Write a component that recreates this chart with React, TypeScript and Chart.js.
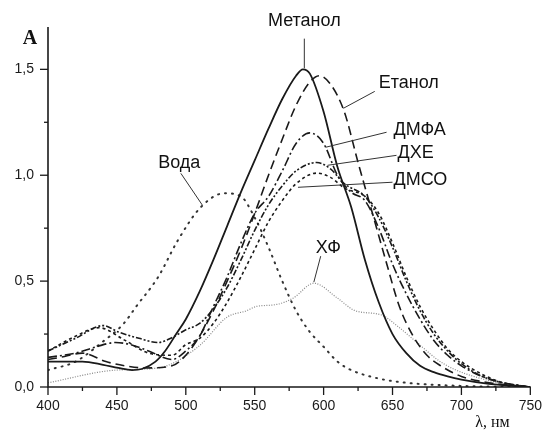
import React, { useEffect, useRef } from 'react';
import { Chart, registerables } from 'chart.js';

Chart.register(...registerables);

// ---- Data (wavelength, nm / absorbance) ----
const metanolX = [400, 425, 440, 451, 461, 468, 478, 485, 493, 500, 510, 520, 530, 540, 550, 560, 570, 580, 585, 590, 600, 610, 620, 630, 640, 650, 660, 670, 680, 690, 700, 720, 750];
const metanolY = [0.12, 0.12, 0.105, 0.09, 0.08, 0.085, 0.12, 0.17, 0.25, 0.32, 0.45, 0.6, 0.76, 0.92, 1.07, 1.22, 1.36, 1.47, 1.5, 1.48, 1.3, 1.04, 0.85, 0.6, 0.4, 0.25, 0.16, 0.1, 0.07, 0.05, 0.035, 0.015, 0];

const etanolX = [400, 409, 425, 442, 456, 470, 490, 500, 510, 520, 530, 540, 550, 560, 570, 580, 590, 597, 605, 615, 625, 635, 645, 655, 665, 675, 685, 700, 720, 750];
const etanolY = [0.13, 0.14, 0.16, 0.12, 0.1, 0.09, 0.1, 0.15, 0.24, 0.36, 0.5, 0.65, 0.82, 1.0, 1.17, 1.33, 1.44, 1.47, 1.43, 1.3, 1.06, 0.83, 0.6, 0.38, 0.24, 0.15, 0.1, 0.05, 0.02, 0];

const dmfaX = [400, 420, 435, 449, 460, 473, 490, 500, 510, 520, 530, 540, 550, 560, 570, 580, 590, 600, 610, 620, 630, 640, 650, 660, 670, 680, 690, 700, 715, 730, 750];
const dmfaY = [0.14, 0.16, 0.19, 0.21, 0.2, 0.17, 0.13, 0.17, 0.24, 0.38, 0.52, 0.68, 0.82, 0.9, 1.02, 1.15, 1.2, 1.15, 1.0, 0.92, 0.88, 0.75, 0.58, 0.44, 0.32, 0.22, 0.15, 0.1, 0.05, 0.02, 0];

const dxeX = [400, 420, 440, 451, 466, 480, 489, 500, 510, 520, 530, 540, 550, 560, 570, 580, 595, 605, 615, 630, 640, 650, 660, 670, 680, 690, 700, 715, 730, 750];
const dxeY = [0.17, 0.23, 0.29, 0.26, 0.23, 0.21, 0.23, 0.27, 0.3, 0.37, 0.47, 0.6, 0.74, 0.86, 0.95, 1.02, 1.06, 1.03, 0.96, 0.9, 0.8, 0.66, 0.5, 0.36, 0.25, 0.17, 0.11, 0.05, 0.02, 0];

const dmsoX = [400, 420, 437, 456, 473, 490, 500, 510, 520, 530, 540, 550, 560, 570, 580, 595, 605, 615, 630, 640, 650, 660, 670, 680, 690, 700, 715, 730, 750];
const dmsoY = [0.17, 0.24, 0.28, 0.22, 0.16, 0.15, 0.2, 0.23, 0.3, 0.4, 0.52, 0.65, 0.78, 0.88, 0.96, 1.01, 0.99, 0.94, 0.9, 0.82, 0.68, 0.52, 0.38, 0.27, 0.18, 0.12, 0.06, 0.02, 0];

const vodaX = [400, 420, 439, 455, 464, 480, 494, 511, 528, 540, 550, 560, 570, 580, 590, 600, 610, 620, 640, 660, 700, 750];
const vodaY = [0.08, 0.12, 0.21, 0.3, 0.38, 0.52, 0.69, 0.85, 0.915, 0.9, 0.8, 0.66, 0.5, 0.36, 0.26, 0.19, 0.12, 0.08, 0.04, 0.02, 0.005, 0];

const xfX = [400, 450, 480, 509, 530, 544, 551, 566, 578, 593, 610, 623, 642, 655, 666, 687, 720, 750];
const xfY = [0.02, 0.08, 0.09, 0.19, 0.33, 0.36, 0.38, 0.39, 0.42, 0.49, 0.42, 0.36, 0.34, 0.28, 0.22, 0.11, 0.03, 0];

const xTicks = [400, 425, 450, 475, 500, 525, 550, 575, 600, 625, 650, 675, 700, 725, 750];
const xMajor = [400, 450, 500, 550, 600, 650, 700, 750];
const yTicks = [0, 0.25, 0.5, 0.75, 1.0, 1.25, 1.5];
const yMajor = [0, 0.5, 1.0, 1.5];

// Labels with leader lines, in data units: text position, then line start/end
const labelTexts = ['Метанол', 'Етанол', 'ДМФА', 'ДХЕ', 'ДМСО', 'Вода', 'ХФ'];
const labelAt: [number, number][] = [[586, 1.73], [640, 1.434], [650.7, 1.212], [653.6, 1.104], [650.7, 0.976], [480, 1.057], [594.3, 0.656]];
const labelAlign = ['center', 'left', 'left', 'left', 'left', 'left', 'left'];
const leaderFrom: [number, number][] = [[586, 1.645], [637.1, 1.396], [645.7, 1.203], [652.9, 1.094], [650, 0.967], [496.4, 1.009], [597.9, 0.618]];
const leaderTo: [number, number][] = [[586, 1.505], [614.3, 1.316], [601.4, 1.132], [602.9, 1.047], [581.4, 0.943], [512.1, 0.858], [592.9, 0.495]];

const toPts = (xs: number[], ys: number[]) => xs.map((x, i) => ({ x, y: ys[i] }));
const fmt = (v: number) => v.toFixed(1).replace('.', ',');

const overlayPlugin = {
  id: 'overlay',
  afterDraw(chart: any) {
    const { ctx } = chart;
    const xs = chart.scales.x;
    const ys = chart.scales.y;
    ctx.save();
    ctx.strokeStyle = '#1a1a1a';
    ctx.lineWidth = 1.6;
    ctx.beginPath();
    ctx.moveTo(xs.left, ys.top);
    ctx.lineTo(xs.left, ys.bottom);
    ctx.lineTo(xs.right, ys.bottom);
    ctx.stroke();
    ctx.lineWidth = 1.3;
    yTicks.forEach((v) => {
      const py = ys.getPixelForValue(v);
      const len = yMajor.includes(v) ? 8 : 4;
      ctx.beginPath();
      ctx.moveTo(xs.left - len, py);
      ctx.lineTo(xs.left, py);
      ctx.stroke();
    });
    xTicks.forEach((v) => {
      const px = xs.getPixelForValue(v);
      const len = xMajor.includes(v) ? 8 : 4;
      ctx.beginPath();
      ctx.moveTo(px, ys.bottom);
      ctx.lineTo(px, ys.bottom + len);
      ctx.stroke();
    });

    // leader lines
    ctx.strokeStyle = '#333';
    ctx.lineWidth = 1;
    leaderFrom.forEach((p, i) => {
      ctx.beginPath();
      ctx.moveTo(xs.getPixelForValue(p[0]), ys.getPixelForValue(p[1]));
      ctx.lineTo(xs.getPixelForValue(leaderTo[i][0]), ys.getPixelForValue(leaderTo[i][1]));
      ctx.stroke();
    });
    // label texts
    ctx.fillStyle = '#111';
    ctx.font = '18px "Liberation Sans", Arial, sans-serif';
    ctx.textBaseline = 'middle';
    labelTexts.forEach((t, i) => {
      ctx.textAlign = labelAlign[i] as CanvasTextAlign;
      ctx.fillText(t, xs.getPixelForValue(labelAt[i][0]), ys.getPixelForValue(labelAt[i][1]));
    });
    // panel letter
    ctx.font = 'bold 20px "Liberation Serif", "Times New Roman", serif';
    ctx.textAlign = 'center';
    ctx.fillText('A', xs.getPixelForValue(387), ys.getPixelForValue(1.646));
    // axis title
    ctx.font = '16px "Liberation Serif", "Times New Roman", serif';
    ctx.textAlign = 'left';
    ctx.fillText('λ, нм', xs.getPixelForValue(710), ys.getPixelForValue(-0.17));
    ctx.restore();
  },
};

export default function App() {
  const ref = useRef<HTMLCanvasElement | null>(null);
  useEffect(() => {
    if (!ref.current) return;
    const base = { pointRadius: 0, fill: false, cubicInterpolationMode: 'monotone' as const };
    const chart = new Chart(ref.current, {
      type: 'line',
      data: {
        datasets: [
          { ...base, label: 'Метанол', data: toPts(metanolX, metanolY), borderColor: '#1a1a1a', borderWidth: 1.8 },
          { ...base, label: 'Етанол', data: toPts(etanolX, etanolY), borderColor: '#1a1a1a', borderWidth: 1.6, borderDash: [9, 5] },
          { ...base, label: 'ДМФА', data: toPts(dmfaX, dmfaY), borderColor: '#1a1a1a', borderWidth: 1.6, borderDash: [9, 3, 2, 3] },
          { ...base, label: 'ДХЕ', data: toPts(dxeX, dxeY), borderColor: '#1a1a1a', borderWidth: 1.6, borderDash: [6, 2, 2, 2, 2, 2] },
          { ...base, label: 'ДМСО', data: toPts(dmsoX, dmsoY), borderColor: '#1a1a1a', borderWidth: 1.6, borderDash: [3, 3] },
          { ...base, label: 'Вода', data: toPts(vodaX, vodaY), borderColor: '#333', borderWidth: 2, borderDash: [1, 6], borderCapStyle: 'round' },
          { ...base, label: 'ХФ', data: toPts(xfX, xfY), borderColor: '#888', borderWidth: 1.2, borderDash: [1, 1.5] },
        ],
      },
      options: {
        responsive: false,
        animation: false,
        events: [],
        layout: { padding: { top: 27, right: 15, left: 0, bottom: 0 } },
        plugins: { legend: { display: false }, tooltip: { enabled: false } },
        scales: {
          x: {
            type: 'linear',
            min: 400,
            max: 750,
            grid: { display: false, drawTicks: false },
            border: { display: false },
            afterBuildTicks: (s: any) => { s.ticks = xTicks.map((v) => ({ value: v })); },
            afterFit: (s: any) => { s.height = 43; },
            ticks: {
              autoSkip: false,
              maxRotation: 0,
              padding: 11,
              color: '#1a1a1a',
              font: { family: '"Liberation Sans", Arial, sans-serif', size: 14 },
              callback: (v: any) => (xMajor.includes(Number(v)) ? String(v) : ''),
            },
          },
          y: {
            type: 'linear',
            min: 0,
            max: 1.7,
            grid: { display: false, drawTicks: false },
            border: { display: false },
            afterBuildTicks: (s: any) => { s.ticks = yTicks.map((v) => ({ value: v })); },
            afterFit: (s: any) => { s.width = 48; },
            ticks: {
              autoSkip: false,
              padding: 14,
              color: '#1a1a1a',
              font: { family: '"Liberation Sans", Arial, sans-serif', size: 14 },
              callback: (v: any) => (yMajor.includes(Number(v)) ? fmt(Number(v)) : ''),
            },
          },
        },
      },
      plugins: [overlayPlugin],
    });
    return () => chart.destroy();
  }, []);
  return (
    <div style={{ position: 'fixed', left: 0, top: 0, width: 553, height: 430, background: '#fff' }}>
      <canvas ref={ref} width={553} height={430} style={{ display: 'block' }} />
    </div>
  );
}
